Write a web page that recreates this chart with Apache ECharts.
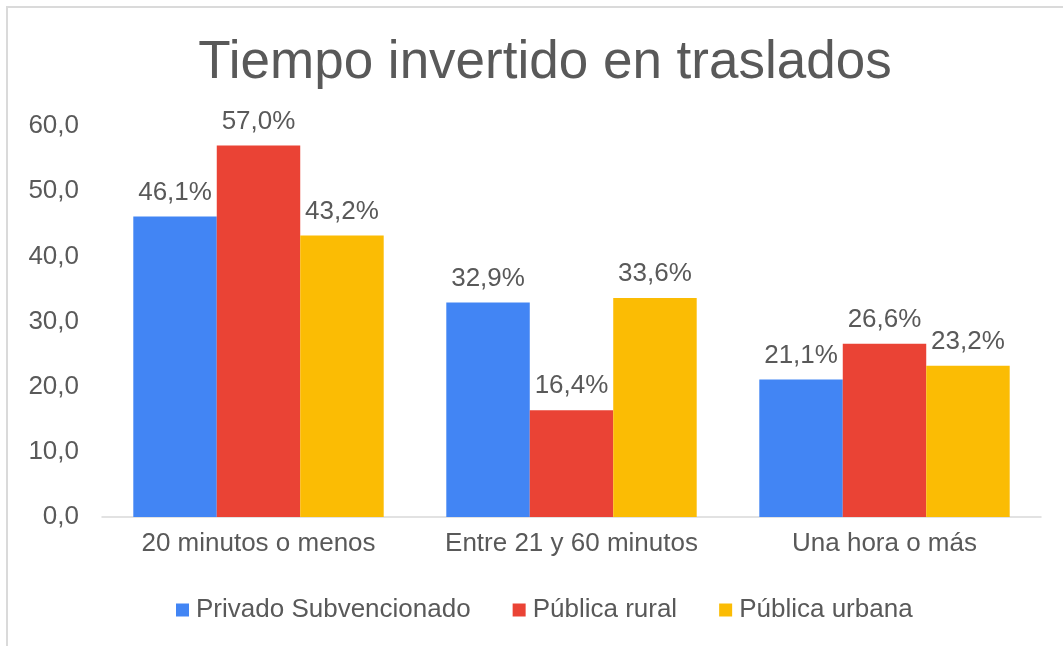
<!DOCTYPE html>
<html>
<head>
<meta charset="utf-8">
<script src="https://cdn.jsdelivr.net/npm/echarts@6/dist/echarts.min.js"></script>
<style>
  html, body { margin: 0; padding: 0; background: #fff; }
  #frame { position: absolute; left: 6px; top: 6px; width: 1100px; height: 700px;
           border-top: 2px solid #dadada; border-left: 2px solid #dadada; }
  #chart { position: absolute; left: 0; top: 0; width: 1063px; height: 646px; }
</style>
</head>
<body>
<div id="frame"></div>
<div id="chart"></div>
<script>
// datos del gráfico
var categorias = ['20 minutos o menos', 'Entre 21 y 60 minutos', 'Una hora o más']
var privadoSubvencionado = [46.1, 32.9, 21.1]
var publicaRural = [57.0, 16.4, 26.6]
var publicaUrbana = [43.2, 33.6, 23.2]

var fuente = 'Liberation Sans, Arial, sans-serif'
var gris = '#595959'

function coma(v, dec) {
  return Number(v).toFixed(dec).replace('.', ',')
}

var etiqueta = {
  show: true,
  position: 'top',
  distance: 11,
  color: gris,
  fontFamily: fuente,
  fontSize: 26,
  formatter: function (p) { return coma(p.value, 1) + '%' }
}

var option = {
  animation: false,
  title: {
    text: 'Tiempo invertido en traslados',
    left: 540,
    textAlign: 'center',
    top: 32,
    textStyle: { color: gris, fontFamily: fuente, fontSize: 53, fontWeight: 'normal' }
  },
  legend: {
    left: 171,
    top: 592,
    icon: 'rect',
    itemWidth: 13,
    itemHeight: 13,
    itemGap: 42,
    textStyle: { color: gris, fontFamily: fuente, fontSize: 26, padding: [0, 0, 0, 2] },
    data: ['Privado Subvencionado', 'Pública rural', 'Pública urbana']
  },
  grid: {
    left: 102,
    right: 22,
    top: 126,
    bottom: 129
  },
  xAxis: {
    type: 'category',
    data: categorias,
    axisLine: { lineStyle: { color: '#d9d9d9', width: 1.5 } },
    axisTick: { show: false },
    axisLabel: { interval: 0, color: gris, fontFamily: fuente, fontSize: 26, margin: 14 }
  },
  yAxis: {
    type: 'value',
    min: 0,
    max: 60,
    interval: 10,
    splitLine: { show: false },
    axisLine: { show: false },
    axisTick: { show: false },
    axisLabel: {
      color: gris, fontFamily: fuente, fontSize: 26, margin: 23,
      formatter: function (v) { return coma(v, 1) }
    }
  },
  series: [
    {
      name: 'Privado Subvencionado',
      type: 'bar',
      data: privadoSubvencionado,
      itemStyle: { color: '#4285F4' },
      barGap: '0%',
      barCategoryGap: '20%',
      label: etiqueta
    },
    {
      name: 'Pública rural',
      type: 'bar',
      data: publicaRural,
      itemStyle: { color: '#EA4335' },
      barGap: '0%',
      barCategoryGap: '20%',
      label: etiqueta
    },
    {
      name: 'Pública urbana',
      type: 'bar',
      data: publicaUrbana,
      itemStyle: { color: '#FBBC04' },
      barGap: '0%',
      barCategoryGap: '20%',
      label: etiqueta
    }
  ]
}

var myChart = echarts.init(document.getElementById('chart'))
myChart.setOption(option)
</script>
</body>
</html>
